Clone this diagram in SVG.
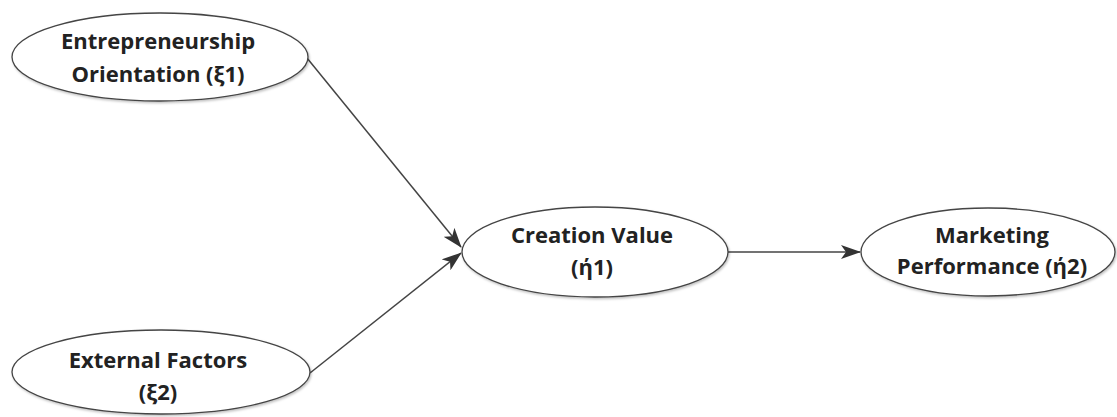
<svg xmlns="http://www.w3.org/2000/svg" width="1117" height="417" viewBox="0 0 1117 417">
<defs>
<filter id="sh" x="-10%" y="-20%" width="120%" height="140%">
<feDropShadow dx="1" dy="1.5" stdDeviation="1.2" flood-color="#000" flood-opacity="0.25"/>
</filter>
<marker id="ah" viewBox="0 0 20 14" refX="19" refY="7" markerWidth="20" markerHeight="14" markerUnits="userSpaceOnUse" orient="auto">
<path d="M0,0 L20,7 L0,14 L5,7 Z" fill="#333"/>
</marker>
</defs>
<style>
.node ellipse{fill:#fff;stroke:#444;stroke-width:1.3}
.node text{font-family:"Open Sans","DejaVu Sans",sans-serif;font-weight:bold;font-size:22px;fill:#222;text-anchor:middle}
.edge{stroke:#444;stroke-width:1.5;fill:none;marker-end:url(#ah)}
</style>
<rect width="1117" height="417" fill="#fff"/>
<g id="connectors">
<line class="edge" x1="307" y1="58" x2="461" y2="247"/>
<line class="edge" x1="310" y1="373" x2="461" y2="253"/>
<line class="edge" x1="728" y1="252" x2="860" y2="252"/>
</g>
<g id="eo" class="node">
<ellipse cx="160" cy="57" rx="148" ry="44" filter="url(#sh)"/>
<text x="158" y="49">Entrepreneurship</text>
<text x="158" y="82">Orientation (ξ1)</text>
</g>
<g id="ef" class="node">
<ellipse cx="161" cy="372" rx="149" ry="42" filter="url(#sh)"/>
<text x="158" y="368">External Factors</text>
<text x="158" y="400">(ξ2)</text>
</g>
<g id="cv" class="node">
<ellipse cx="595" cy="252" rx="133" ry="45" filter="url(#sh)"/>
<text x="592" y="243">Creation Value</text>
<text x="592" y="275">(ή1)</text>
</g>
<g id="mp" class="node">
<ellipse cx="988" cy="252" rx="127" ry="44" filter="url(#sh)"/>
<text x="992" y="243">Marketing</text>
<text x="992" y="274">Performance (ή2)</text>
</g>
</svg>
